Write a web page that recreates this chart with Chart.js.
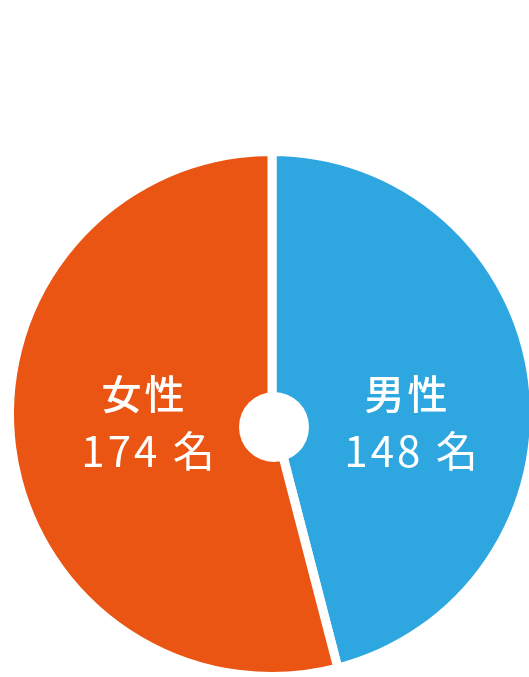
<!DOCTYPE html>
<html>
<head>
<meta charset="utf-8">
<script src="https://cdn.jsdelivr.net/npm/chart.js@4.4.1/dist/chart.umd.min.js"></script>
<style>
html,body{margin:0;padding:0;background:#fff;overflow:hidden;width:529px;height:677px;}
#wrap{position:absolute;left:0;top:0;width:560px;height:700px;}
</style>
</head>
<body>
<div id="wrap"><canvas id="c"></canvas></div>
<script>
const categories = ["男性", "女性"];
const counts = [148, 174];
const unit = "名";
const colors = ["#2EA7E0", "#EA5514"];

const labelPlugin = {
  id: "labels",
  afterDatasetsDraw(chart) {
    const ctx = chart.ctx;
    const meta = chart.getDatasetMeta(0);
    const a0 = meta.data[0];
    // center hole
    ctx.save();
    ctx.fillStyle = "#fff";
    ctx.beginPath();
    ctx.arc(a0.x + 2, a0.y + 13, 35, 0, Math.PI * 2);
    ctx.fill();
    ctx.restore();
    meta.data.forEach((arc, i) => {
      const mid = (arc.startAngle + arc.endAngle) / 2;
      const x = arc.x + Math.cos(mid) * arc.outerRadius * 0.505 + 7;
      const y = arc.y;
      ctx.save();
      ctx.fillStyle = "#fff";
      ctx.textAlign = "center";
      ctx.textBaseline = "middle";
      ctx.letterSpacing = "3px";
      ctx.font = "500 40px 'Noto Sans CJK JP', sans-serif";
      ctx.fillText(categories[i], x - 3, y - 20);
      ctx.font = "400 42px 'Noto Sans CJK JP', sans-serif";
      ctx.fillText(counts[i] + " " + unit, x + 2, y + 37);
      ctx.restore();
    });
  }
};

new Chart(document.getElementById("c"), {
  type: "pie",
  data: {
    labels: categories,
    datasets: [{
      data: counts,
      backgroundColor: colors,
      borderColor: "#fff",
      borderWidth: 9,
      hoverOffset: 0
    }]
  },
  options: {
    responsive: true,
    maintainAspectRatio: false,
    animation: false,
    events: [],
    layout: { padding: { left: 5, top: 147, right: 21, bottom: 19 } },
    plugins: { legend: { display: false }, tooltip: { enabled: false } }
  },
  plugins: [labelPlugin]
});
</script>
</body>
</html>
